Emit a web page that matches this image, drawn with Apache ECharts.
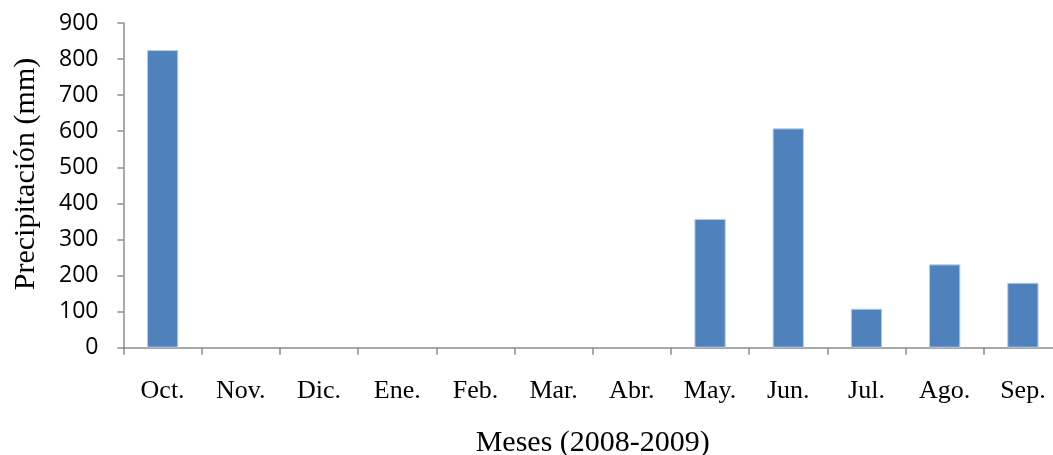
<!DOCTYPE html>
<html>
<head>
<meta charset="utf-8">
<script src="https://cdn.jsdelivr.net/npm/echarts@6/dist/echarts.min.js"></script>
<style>html,body{margin:0;padding:0;background:#fff}#c{width:1053px;height:455px}</style>
</head>
<body>
<div id="c"></div>
<script>
const months = ['Oct.', 'Nov.', 'Dic.', 'Ene.', 'Feb.', 'Mar.', 'Abr.', 'May.', 'Jun.', 'Jul.', 'Ago.', 'Sep.'];
const precipitation = [825, 0, 0, 0, 0, 0, 0, 357, 608, 108, 231, 180];
const yTitle = 'Precipitación (mm)';
const xTitle = 'Meses (2008-2009)';

const chart = echarts.init(document.getElementById('c'), null, {renderer: 'canvas'});
chart.setOption({
  animation: false,
  grid: {left: 123.5, top: 23, width: 938.5, height: 324.7, containLabel: false, outerBoundsMode: 'none'},
  xAxis: {
    type: 'category',
    data: months,
    boundaryGap: true,
    axisLine: {lineStyle: {color: '#8c8c8c', width: 1.5}},
    axisTick: {show: true, length: 7, lineStyle: {color: '#8c8c8c', width: 1.5}},
    axisLabel: {color: '#000', fontFamily: 'Liberation Serif', fontSize: 26, margin: 30},
    name: xTitle,
    nameLocation: 'middle',
    nameGap: 80,
    nameTextStyle: {color: '#000', fontFamily: 'Liberation Serif', fontSize: 30}
  },
  yAxis: {
    type: 'value',
    min: 0, max: 900, interval: 100,
    splitLine: {show: false},
    axisLine: {show: true, lineStyle: {color: '#8c8c8c', width: 1.5}},
    axisTick: {show: true, length: 6, lineStyle: {color: '#8c8c8c', width: 1.5}},
    axisLabel: {color: '#000', fontFamily: 'Open Sans', fontSize: 23, margin: 25}
  },
  graphic: [{
    type: 'text',
    x: 26, y: 174,
    rotation: Math.PI / 2,
    style: {
      text: yTitle,
      fill: '#000',
      font: '30px "Liberation Serif"',
      align: 'center',
      verticalAlign: 'middle'
    }
  }],
  series: [{
    type: 'bar',
    data: precipitation.map(v => ({value: v, itemStyle: {borderWidth: v > 0 ? 1 : 0}})),
    barWidth: '40%',
    itemStyle: {color: '#4f81bd', borderColor: '#b9cce4'}
  }]
});
</script>
</body>
</html>
